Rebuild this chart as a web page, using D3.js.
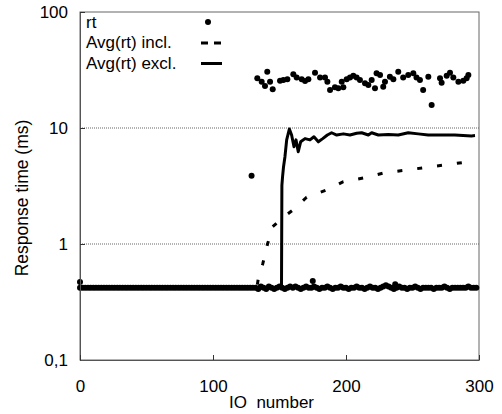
<!DOCTYPE html>
<html>
<head>
<meta charset="utf-8">
<script src="https://cdn.jsdelivr.net/npm/d3@7"></script>
<style>
  body { margin: 0; background: #fff; }
  text { font-family: "Liberation Sans", Arial, sans-serif; }
</style>
</head>
<body>
<div id="chart-area"></div>
<script>
// fast responses, one value every 2 IOs starting at IO 0
const fastStep = 2
const rtFast = [
  0.42,0.42,0.42,0.42,0.42,0.42,0.42,0.42,0.42,0.42,
  0.42,0.42,0.42,0.42,0.42,0.42,0.42,0.42,0.42,0.42,
  0.42,0.42,0.42,0.42,0.42,0.42,0.42,0.42,0.42,0.42,
  0.42,0.42,0.42,0.42,0.42,0.42,0.42,0.42,0.42,0.42,
  0.42,0.42,0.42,0.42,0.42,0.42,0.42,0.42,0.42,0.42,
  0.42,0.42,0.42,0.42,0.42,0.42,0.42,0.42,0.42,0.42,
  0.42,0.42,0.42,0.42,0.42,0.42,0.42,0.41,0.43,0.42,
  0.41,0.43,0.42,0.41,0.42,0.43,0.42,0.41,0.42,0.43,
  0.42,0.43,0.42,0.41,0.42,0.43,0.42,0.42,0.43,0.42,
  0.41,0.42,0.42,0.43,0.42,0.41,0.42,0.42,0.43,0.42,
  0.42,0.41,0.42,0.42,0.43,0.42,0.42,0.41,0.42,0.43,
  0.42,0.42,0.41,0.42,0.43,0.44,0.43,0.42,0.41,0.42,
  0.43,0.42,0.42,0.41,0.42,0.42,0.43,0.42,0.41,0.42,
  0.42,0.42,0.42,0.41,0.42,0.42,0.42,0.43,0.42,0.41,
  0.42,0.42,0.42,0.42,0.42,0.42,0.43,0.42,0.42,0.42
]

// other rt points [IO, ms]
const rtPoints = [
  [0,0.47],[129,3.88],[175,0.48],[237,0.45],
  [133.3,26.8],[136.6,25.1],[139.1,23.0],[140.8,30.6],[142.9,25.1],[144.9,21.6],
  [150.4,25.5],[152.9,25.9],[155.9,26.3],[160.4,29.1],[162.9,27.3],[166.7,26.3],
  [169.2,25.4],[171.7,26.3],[176.7,30.0],[180.5,27.3],[184.2,27.3],[186,25.1],
  [188,21.3],[191.7,22.4],[194.2,22.0],[196.8,25.1],[198,22.4],[200.5,26.3],
  [203,27.3],[205.5,28.2],[208,27.3],[210.5,25.9],[214.3,24.3],[216.8,23.5],
  [219.3,25.9],[221.8,22.0],[223,29.6],[225.6,28.6],[228,22.7],[229.3,25.1],
  [233,27.7],[235.6,26.3],[239.3,30.6],[243,27.3],[246.8,28.6],[250.6,29.6],
  [253,27.3],[255.6,25.9],[258,21.3],[261.9,27.7],[264.4,15.8],[270.7,26.8],
  [271.9,24.6],[275.7,28.2],[278.2,30.0],[280.7,27.3],[284.5,25.1],[288.2,25.5],
  [290.7,26.8],[292,28.6]
]

const avgIncl = [
  [0,0.42],[133,0.42],[134,0.5],[137.5,0.68],[141,1.0],[144.9,1.41],[152.9,1.70],
  [161.7,2.03],[170.4,2.53],[186.7,2.96],[198,3.44],[214.3,3.73],[229.3,4.12],
  [245.6,4.34],[260.6,4.58],[276.9,4.86],[293.2,5.13],[297,5.2]
]

const avgExcl = [
  [0,0.42],[151.5,0.42],[151.8,3.2],[152.3,3.8],[153,4.6],[154.1,5.66],[155.4,7.9],
  [157.4,9.8],[159.1,8.7],[160.9,6.9],[162.4,7.9],[164.1,6.25],[165.9,7.6],[169.2,8.1],
  [172.9,7.9],[175.9,8.4],[179.2,7.6],[182.5,8.1],[186,8.7],[189.2,9.1],[193,8.7],
  [198,8.9],[203,8.7],[208,9.0],[211.8,9.1],[216.8,8.7],[219.3,9.1],[224.3,8.7],
  [231.8,8.8],[239.3,8.7],[246.8,9.1],[254.3,8.9],[261.8,8.7],[271.8,8.7],
  [281.8,8.7],[294.3,8.55],[297,8.6]
]

const xTicks = [0, 100, 200, 300]
const yTicks = [0.1, 1, 10, 100]
const yTickLabels = ["0,1", "1", "10", "100"]
const gridValues = [1, 10]
const legendLabels = ["rt", "Avg(rt) incl.", "Avg(rt) excl."]

const margin = {top: 12, right: 23, bottom: 54, left: 80},
      width = 502 - margin.left - margin.right,
      height = 414 - margin.top - margin.bottom

const svg = d3.select("#chart-area")
  .append("svg")
    .attr("width", 502)
    .attr("height", 414)
  .append("g")
    .attr("transform", `translate(${margin.left},${margin.top})`)

const x = d3.scaleLinear().domain([0, 300]).range([0, width])
const y = d3.scaleLog().domain([0.1, 100]).range([height, 0])

// grid lines
svg.selectAll(".grid")
  .data(gridValues)
  .join("line")
    .attr("x1", 0).attr("x2", width)
    .attr("y1", d => y(d)).attr("y2", d => y(d))
    .attr("stroke", "#666")
    .attr("stroke-width", 1)
    .attr("stroke-dasharray", "1,1")

// frame
svg.append("rect")
  .attr("width", width).attr("height", height)
  .attr("fill", "none")
  .attr("stroke", "#666")

const line = d3.line().x(d => x(d[0])).y(d => y(d[1]))

svg.append("path")
  .datum(avgIncl)
  .attr("d", line)
  .attr("fill", "none")
  .attr("stroke", "#000")
  .attr("stroke-width", 3)
  .attr("stroke-dasharray", "5,15")

svg.append("path")
  .datum(avgExcl)
  .attr("d", line)
  .attr("fill", "none")
  .attr("stroke", "#000")
  .attr("stroke-width", 3)
  .attr("stroke-linejoin", "round")

// rt dots
const allRt = rtFast.map((v, i) => [i * fastStep, v]).concat(rtPoints)
svg.selectAll(".dot")
  .data(allRt)
  .join("circle")
    .attr("cx", d => x(d[0]))
    .attr("cy", d => y(d[1]))
    .attr("r", 3)
    .attr("fill", "#000")

// axes
const yAxis = svg.append("g")
  .call(d3.axisLeft(y).tickValues(yTicks)
    .tickFormat((d, i) => yTickLabels[i])
    .tickSize(-5).tickSizeOuter(0).tickPadding(12))
yAxis.select(".domain").attr("stroke", "#555")
yAxis.selectAll("line").attr("stroke", "#333")
yAxis.selectAll("text").attr("font-size", 17).attr("fill", "#000")
  .style("font-family", "'Liberation Sans', Arial, sans-serif")

const xAxis = svg.append("g")
  .attr("transform", `translate(0, ${height})`)
  .call(d3.axisBottom(x).tickValues(xTicks)
    .tickSize(-5).tickSizeOuter(0).tickPadding(20))
xAxis.select(".domain").attr("stroke", "#555")
xAxis.selectAll("line").attr("stroke", "#333")
xAxis.selectAll("text").attr("font-size", 17).attr("fill", "#000")
  .style("font-family", "'Liberation Sans', Arial, sans-serif")

// axis titles
svg.append("text")
  .attr("x", 149).attr("y", height + 48)
  .attr("font-size", 17)
  .style("white-space", "pre")
  .text("IO  number")

svg.append("text")
  .attr("transform", `translate(${-52}, ${height / 2 + 12}) rotate(-90)`)
  .attr("text-anchor", "middle")
  .attr("font-size", 17.5)
  .text("Response time (ms)")

// legend
const legend = svg.append("g").attr("transform", "translate(6, 0)")
legendLabels.forEach((lab, i) => {
  const row = legend.append("g").attr("transform", `translate(0, ${15.5 + i * 20.5})`)
  row.append("text").attr("x", 0).attr("y", 0).attr("font-size", 17).text(lab)
  if (i === 0) {
    row.append("circle").attr("cx", 122).attr("cy", -5.5).attr("r", 3).attr("fill", "#000")
  } else {
    row.append("line")
      .attr("x1", 115).attr("x2", 136)
      .attr("y1", -5).attr("y2", -5)
      .attr("stroke", "#000").attr("stroke-width", 3)
      .attr("stroke-dasharray", i === 1 ? "7,6" : null)
  }
})
</script>
</body>
</html>
